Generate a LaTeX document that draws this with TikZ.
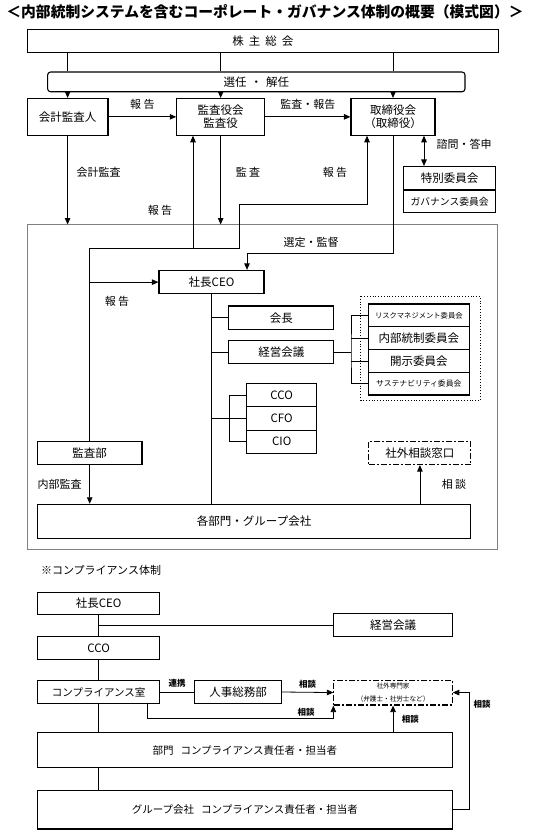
\documentclass[tikz,border=0pt]{standalone}
\usepackage{fontspec}
\setmainfont{Noto Sans CJK JP}
\usetikzlibrary{arrows.meta, positioning}
\tikzstyle{box} = [rectangle, draw=black, line width=1.1pt, inner sep=0pt, text centered, font=\fontsize{11.5}{13}\selectfont]
\tikzstyle{roundbox} = [box, rounded corners=3pt]
\tikzstyle{dashbox} = [box, dash pattern=on 6pt off 2pt on 2pt off 2pt]
\tikzstyle{conn} = [line width=0.8pt]
\tikzstyle{arrow} = [line width=0.8pt, ->, >={Triangle[length=6.5pt, width=5.5pt]}]
\tikzstyle{dblarrow} = [line width=0.8pt, <->, >={Triangle[length=6.5pt, width=5.5pt]}]
\tikzstyle{lbl} = [inner sep=0pt, font=\fontsize{11}{13}\selectfont]
\tikzstyle{smalllbl} = [inner sep=0pt, font=\fontsize{8.5}{10}\selectfont\bfseries]

\begin{document}
\begin{tikzpicture}[x=1pt, y=-1pt]
\useasboundingbox (0,0) rectangle (533,840);

\node (title) [inner sep=0pt, font=\fontsize{14.8}{16}\selectfont\bfseries] at (265,12) {＜内部統制システムを含むコーポレート・ガバナンス体制の概要（模式図）＞};

% 上段
\node (kabu)  [box, minimum width=471.2, minimum height=22.8] at (262.8,41.3) {株\hspace{5pt}主\hspace{5pt}総\hspace{5pt}会};
\node (senin) [roundbox, minimum width=417.4, minimum height=19.8] at (256.3,81.9) {選任\hspace{4pt}・\hspace{4pt}解任};
\node (kaikei) [box, minimum width=80.8, minimum height=36.7] at (67.6,116.85) {会計監査人};
\node (kansa)  [box, minimum width=87.7, minimum height=36.7, align=center] at (220.65,116.85) {監査役会\\監査役};
\node (torishimari) [box, minimum width=84, minimum height=36.7, align=center] at (393,116.85) {取締役会\\（取締役）};
\node (tokubetsu)  [box, minimum width=92.1, minimum height=23.5] at (449.65,178.25) {特別委員会};
\node (governance) [box, minimum width=92.1, minimum height=22.7, font=\fontsize{9.8}{11}\selectfont] at (449.65,201.35) {ガバナンス委員会};

% 執行側の枠
\draw [gray, line width=1pt] (27.2,224.5) rectangle (497,549.2);

\node (ceo)    [box, minimum width=105, minimum height=23.5] at (211.5,282.15) {社長CEO};
\node (kaicho) [box, minimum width=105.1, minimum height=23.6] at (281.35,317.8) {会長};
\node (keiei)  [box, minimum width=105.1, minimum height=23.1] at (281.35,352.35) {経営会議};

\draw [dotted, line width=0.8pt] (360.7,296) rectangle (480,400);
\node (risk)    [box, minimum width=101, minimum height=22.75, font=\fontsize{7.3}{8}\selectfont] at (418.8,315.4) {リスクマネジメント委員会};
\node (naibu)   [box, minimum width=101, minimum height=22.75] at (418.8,338.1) {内部統制委員会};
\node (kaiji)   [box, minimum width=101, minimum height=22.75] at (418.8,360.9) {開示委員会};
\node (sustain) [box, minimum width=101, minimum height=22.75, font=\fontsize{7.8}{8}\selectfont] at (418.8,383.6) {サステナビリティ委員会};

\node (cco) [box, minimum width=70.4, minimum height=23.2] at (281.7,395.2) {CCO};
\node (cfo) [box, minimum width=70.4, minimum height=23.2] at (281.7,418.45) {CFO};
\node (cio) [box, minimum width=70.4, minimum height=23.2] at (281.7,441.7) {CIO};

\node (kansabu) [box, minimum width=104.6, minimum height=23.1] at (89.7,452.95) {監査部};
\node (soudan)  [dashbox, minimum width=102, minimum height=23.1] at (419.9,452.95) {社外相談窓口};
\node (kakubu)  [box, minimum width=433.5, minimum height=34] at (254.15,521.3) {各部門・グループ会社};

\coordinate (hq) at (89.7,248);
\coordinate (hr) at (239.7,248);
\coordinate (ku) at (193,248);
\coordinate (sd) at (247,253.4);
\coordinate (cm) at (351,352.35);

% 選任・解任
\draw [conn] (kabu.south -| kaikei.north) -- (senin.north -| kaikei.north);
\draw [conn] (kabu.south -| kansa.north) -- (senin.north -| kansa.north);
\draw [conn] (kabu.south -| torishimari.north) -- (senin.north -| torishimari.north);
\draw [arrow] (senin.south -| kaikei.north) -- (kaikei.north);
\draw [arrow] (senin.south -| kansa.north) -- (kansa.north);
\draw [arrow] (senin.south -| torishimari.north) -- (torishimari.north);

% 報告・監査
\draw [arrow] (kaikei.east) -- node[lbl, above=7pt] {報 告} (kansa.west);
\draw [arrow] (kansa.east) -- node[lbl, above=7pt] {監査・報告} (torishimari.west);
\draw [dblarrow] ([xshift=31pt]torishimari.south) -- ([xshift=-25.65pt]tokubetsu.north);
\node [lbl] at (464,144.4) {諮問・答申};

\draw [arrow] (kaikei.south) -- (kaikei.south |- 0,224.5);
\node [lbl] at (98.6,172.6) {会計監査};
\draw [arrow] (kansa.south) -- (kansa.south |- 0,224.5);
\node [lbl] at (248,172.6) {監 査};
\node [lbl] at (335,172.6) {報 告};
\node [lbl] at (160,210.7) {報 告};

\draw [conn] (kansabu.north) -- (hq) -- (hr);
\draw [arrow] (ku) -- (ku |- kansa.south);
\draw [arrow] (hr) -- ++(0,-43.4) -| ([xshift=-26pt]torishimari.south);
\draw [arrow] (hq |- ceo.west) -- (ceo.west);
\node [lbl] at (117,301.7) {報 告};

% 選定・監督
\draw [arrow] (torishimari.south) |- (sd) -- (sd |- ceo.north);
\node [lbl] at (311,242.2) {選定・監督};

% 社長CEO以下
\draw [conn] (ceo.south) -- (ceo.south |- kakubu.north);
\draw [conn] (ceo.south |- kaicho.west) -- (kaicho.west);
\draw [conn] (ceo.south |- keiei.west) -- (keiei.west);
\draw [conn] (ceo.south |- cfo.west) -- (cfo.west);
\draw [conn] (cco.west) -| ([xshift=-17pt]cfo.west) |- (cio.west);
\draw [conn] (keiei.east) -- (cm);
\draw [conn] (risk.west) -| (cm) |- (sustain.west);
\draw [conn] (cm |- naibu.west) -- (naibu.west);
\draw [conn] (cm |- kaiji.west) -- (kaiji.west);

\draw [arrow] (kansabu.south) -- (kansabu.south |- kakubu.north);
\node [lbl] at (59.5,483.9) {内部監査};
\draw [arrow] (kakubu.north -| soudan.south) -- (soudan.south);
\node [lbl] at (454,483.9) {相 談};

% コンプライアンス体制
\node (comptitle) [lbl, anchor=west] at (40.8,570.3) {※コンプライアンス体制};
\node (ceo2)   [box, minimum width=122.4, minimum height=22.1] at (98.6,603.45) {社長CEO};
\node (keiei2) [box, minimum width=118.3, minimum height=22.8] at (393.05,625.2) {経営会議};
\node (cco2)   [box, minimum width=122.4, minimum height=22.8] at (98.6,648) {CCO};
\node (comp)   [box, minimum width=122.4, minimum height=23.8, font=\fontsize{10.5}{12}\selectfont] at (98.6,692) {コンプライアンス室};
\node (jinji)  [box, minimum width=87, minimum height=23.8] at (238,692) {人事総務部};
\node (senmon) [dashbox, minimum width=118.3, minimum height=24.9, align=center, font=\fontsize{6.6}{12.5}\selectfont] at (393.05,692.55) {社外専門家\\（弁護士・社労士など）};
\node (bumon)  [box, minimum width=414.8, minimum height=34.7, font=\fontsize{10.5}{12}\selectfont] at (244.8,750.15) {部門\hspace{7pt}コンプライアンス責任者・担当者};
\node (group)  [box, minimum width=414.8, minimum height=38.4, font=\fontsize{10.5}{12}\selectfont] at (244.8,809.8) {グループ会社\hspace{7pt}コンプライアンス責任者・担当者};

\draw [conn] (ceo2.south) -- (cco2.north);
\draw [conn] (ceo2.south |- keiei2.west) -- (keiei2.west);
\draw [conn] (cco2.south) -- (comp.north);
\draw [conn] (comp.east) -- node[smalllbl, above=4pt] {連携} (jinji.west);
\draw [arrow] (jinji.east) -- node[smalllbl, above=4pt] {相談} (senmon.west);
\draw [arrow] ([xshift=48.3pt]comp.south) |- ([yshift=-12.8pt]senmon.south west) -- (senmon.south west);
\node [smalllbl] at (306,712.4) {相談};
\draw [conn] (comp.south) -- (comp.south |- bumon.north);
\draw [conn] (comp.south |- bumon.south) -- (comp.south |- group.north);
\draw [arrow] (bumon.north -| senmon.south) -- (senmon.south);
\node [smalllbl] at (410.4,719.2) {相談};
\draw [arrow] (group.east) -- ++(16.3,0) |- (senmon.east);
\node [smalllbl] at (482,703.9) {相談};

\end{tikzpicture}
\end{document}
